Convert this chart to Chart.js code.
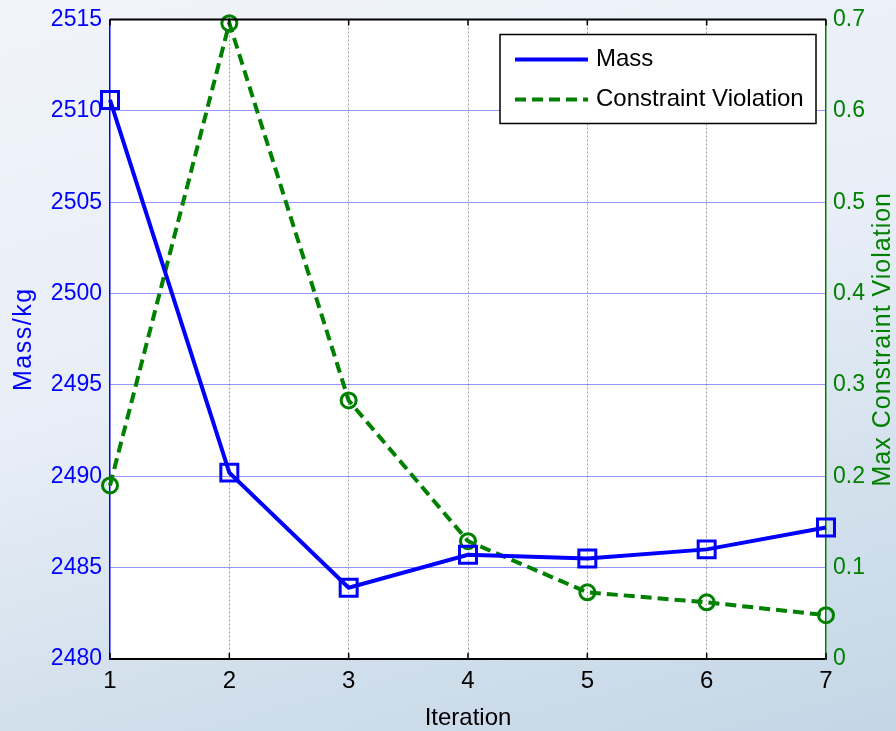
<!DOCTYPE html>
<html>
  <head>
    <meta charset="utf-8"/>
    <script type="text/javascript" src="https://cdn.jsdelivr.net/npm/chart.js@4/dist/chart.umd.min.js"></script>
    <style>
      html, body { margin: 0; padding: 0; }
      body {
        width: 896px; height: 731px; overflow: hidden;
        background: linear-gradient(165deg, #f1f4fa 0%, #e8eef7 45%, #d2e0ec 75%, #c4d6e6 100%);
      }
      #chart-holder { position: relative; width: 896px; height: 731px; }
    </style>
  </head>
  <body>
    <div id="chart-holder">
      <canvas id="chart-area"></canvas>
    </div>

    <script type="text/javascript">
      // data
      var iterations = ['1', '2', '3', '4', '5', '6', '7'];
      var massValues = [2510.6, 2490.2, 2483.9, 2485.7, 2485.5, 2486.0, 2487.2];
      var violationValues = [0.19, 0.696, 0.283, 0.129, 0.073, 0.062, 0.048];
      var massTicks = [2480, 2485, 2490, 2495, 2500, 2505, 2510, 2515];
      var violationTicks = [0, 0.1, 0.2, 0.3, 0.4, 0.5, 0.6, 0.7];

      var FONT = '"Liberation Sans", Arial, sans-serif';
      var BLUE = '#0000ff';
      var GREEN = '#008000';

      function drawTitle(ctx, text, x, y, rot, font, color, spacing) {
        ctx.save();
        ctx.translate(x, y);
        ctx.rotate(rot);
        ctx.font = font;
        ctx.fillStyle = color;
        ctx.letterSpacing = spacing + 'px';
        ctx.textAlign = 'center';
        ctx.textBaseline = 'alphabetic';
        ctx.fillText(text, 0, 0);
        ctx.restore();
      }

      // white plot area, frame, tick marks, legend box and axis titles
      var plotDecor = {
        id: 'plotDecor',
        beforeDraw: function(chart) {
          var a = chart.chartArea, ctx = chart.ctx;
          ctx.save();
          ctx.fillStyle = '#ffffff';
          ctx.fillRect(a.left, a.top, a.right - a.left, a.bottom - a.top);
          ctx.restore();
        },
        afterDraw: function(chart) {
          var a = chart.chartArea, ctx = chart.ctx;
          var sx = chart.scales.x;
          ctx.save();
          // top edge
          ctx.strokeStyle = '#000';
          ctx.lineWidth = 2;
          ctx.beginPath();
          ctx.moveTo(a.left, a.top);
          ctx.lineTo(a.right, a.top);
          ctx.stroke();

          // small inward tick marks on the x axis
          ctx.lineWidth = 1.5;
          sx.ticks.forEach(function(t, i) {
            var px = sx.getPixelForTick(i);
            ctx.beginPath();
            ctx.moveTo(px, a.bottom);
            ctx.lineTo(px, a.bottom - 6);
            ctx.moveTo(px, a.top);
            ctx.lineTo(px, a.top + 6);
            ctx.stroke();
          });

          // legend
          var bx = a.right - 326, by = a.top + 15, bw = 316, bh = 89;
          ctx.fillStyle = '#fff';
          ctx.fillRect(bx, by, bw, bh);
          ctx.lineWidth = 1.5;
          ctx.strokeStyle = '#000';
          ctx.strokeRect(bx, by, bw, bh);
          ctx.font = '24px ' + FONT;
          ctx.textBaseline = 'middle';
          ctx.textAlign = 'left';
          chart.data.datasets.forEach(function(ds, i) {
            var y = by + 25 + i * 40;
            ctx.strokeStyle = ds.borderColor;
            ctx.lineWidth = 4;
            ctx.setLineDash(ds.borderDash || []);
            ctx.beginPath();
            ctx.moveTo(bx + 15, y);
            ctx.lineTo(bx + 88, y);
            ctx.stroke();
            ctx.setLineDash([]);
            ctx.fillStyle = '#000';
            ctx.fillText(ds.label, bx + 96, y);
          });
          ctx.restore();

          var midY = (a.top + a.bottom) / 2;
          drawTitle(ctx, 'Mass/kg', 31, midY, -Math.PI / 2, '25px ' + FONT, BLUE, 1.5);
          drawTitle(ctx, 'Max Constraint Violation', 890, midY, -Math.PI / 2, '25px ' + FONT, GREEN, 1);
          drawTitle(ctx, 'Iteration', (a.left + a.right) / 2, 725, 0, '24px ' + FONT, '#000', 0);
        }
      };

      var ctx = document.getElementById('chart-area').getContext('2d');
      var chart = new Chart(ctx, {
        type: 'line',
        data: {
          labels: iterations,
          datasets: [{
            label: 'Mass',
            data: massValues,
            yAxisID: 'yMass',
            borderColor: BLUE,
            backgroundColor: 'rgba(0,0,0,0)',
            borderWidth: 4,
            pointStyle: 'rect',
            pointRadius: 12,
            pointBorderWidth: 3,
            pointBorderColor: BLUE,
            pointBackgroundColor: 'rgba(0,0,0,0)',
            tension: 0,
            clip: false
          }, {
            label: 'Constraint Violation',
            data: violationValues,
            yAxisID: 'yViol',
            borderColor: GREEN,
            backgroundColor: 'rgba(0,0,0,0)',
            borderWidth: 4,
            borderDash: [11, 6],
            pointStyle: 'circle',
            pointRadius: 7.5,
            pointBorderWidth: 3,
            pointBorderColor: GREEN,
            pointBackgroundColor: 'rgba(0,0,0,0)',
            tension: 0,
            clip: false
          }]
        },
        options: {
          responsive: true,
          maintainAspectRatio: false,
          animation: false,
          events: [],
          layout: { padding: { top: 8, left: 0, right: 0, bottom: 0 } },
          plugins: {
            legend: { display: false },
            tooltip: { enabled: false }
          },
          scales: {
            x: {
              type: 'category',
              offset: false,
              grid: {
                color: function(c) {
                  return (c.index === 0 || c.index === iterations.length - 1) ? 'rgba(0,0,0,0)' : '#9a9a9a';
                },
                lineWidth: 1,
                drawTicks: false
              },
              border: { color: '#000', width: 2, dash: [2, 2] },
              ticks: { color: '#000', font: { family: FONT, size: 24 }, padding: 8, maxRotation: 0 },
              afterFit: function(scale) { scale.height = 72; }
            },
            yMass: {
              position: 'left',
              min: 2480,
              max: 2515,
              afterBuildTicks: function(scale) {
                scale.ticks = massTicks.map(function(v) { return { value: v }; });
              },
              grid: {
                color: function(c) {
                  return (c.index === 0 || c.index === massTicks.length - 1) ? 'rgba(0,0,0,0)' : 'rgba(60,60,255,0.55)';
                },
                lineWidth: 1,
                drawTicks: false
              },
              border: { color: BLUE, width: 1.5 },
              ticks: {
                color: BLUE, font: { family: FONT, size: 23, lineHeight: 1 }, padding: 8,
                callback: function(v) { return String(v); }
              },
              afterFit: function(scale) { scale.width = 110; }
            },
            yViol: {
              position: 'right',
              min: 0,
              max: 0.7,
              afterBuildTicks: function(scale) {
                scale.ticks = violationTicks.map(function(v) { return { value: v }; });
              },
              grid: { drawOnChartArea: false, drawTicks: false },
              border: { color: GREEN, width: 1.5 },
              ticks: {
                color: GREEN, font: { family: FONT, size: 23, lineHeight: 1 }, padding: 7,
                callback: function(v) { return String(Math.round(v * 10) / 10); }
              },
              afterFit: function(scale) { scale.width = 70; }
            }
          }
        },
        plugins: [plotDecor]
      });
    </script>
  </body>
</html>
